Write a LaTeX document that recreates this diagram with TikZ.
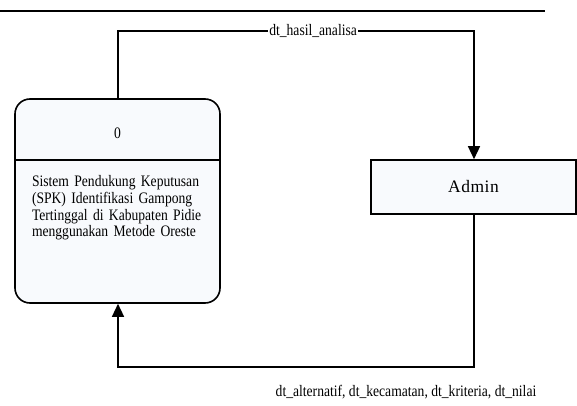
\documentclass[tikz,border=0pt]{standalone}
\usepackage{fontspec}
\setmainfont{Liberation Serif}
\newfontfamily\dfdfont[FakeStretch=0.85]{Liberation Serif}
\newfontfamily\entfont[LetterSpace=3]{Liberation Serif}
\usetikzlibrary{shapes, arrows.meta, positioning}
\definecolor{isian}{RGB}{248,250,253}
\tikzstyle{proses} = [rectangle, rounded corners=15pt, draw, line width=1.6pt, fill=isian, minimum width=205pt, minimum height=204pt, inner sep=0pt]
\tikzstyle{entitas} = [rectangle, draw, line width=1.6pt, fill=isian, minimum width=205pt, minimum height=54pt, font=\entfont\fontsize{17.5}{19}\selectfont]
\tikzstyle{aliran} = [-{Triangle[width=12pt, length=13pt]}, line width=1.4pt]
\tikzstyle{teks} = [font=\dfdfont\fontsize{16}{16.7}\selectfont, inner sep=1pt]

\begin{document}
\begin{tikzpicture}[x=1pt, y=-1pt]
  \useasboundingbox (0,0) rectangle (577,406);
  % garis atas
  \coordinate (ga) at (0,11);
  \coordinate (gb) at (545,11);
  \draw[line width=2.4pt] (ga) -- (gb);

  % proses dan entitas
  \node[proses] (p0) at (117.5,201) {};
  \node[entitas] (admin) at (473.5,187) {Admin};

  % isi proses
  \coordinate (sekat) at (0,160);
  \draw[line width=1.6pt] (p0.west |- sekat) -- (p0.east |- sekat);
  \node[teks] (nomor) at (117.5,133) {0};
  \node[teks, text width=182pt, align=left] (nama) at (123,208) {%
    \makebox[182pt][s]{Sistem Pendukung Keputusan}\\
    \makebox[182pt][s]{(SPK) Identifikasi Gampong}\\
    \makebox[182pt][s]{Tertinggal di Kabupaten Pidie}\\
    \makebox[176pt][s]{menggunakan Metode Oreste}};

  % aliran data
  \coordinate (ki) at (118,31);
  \coordinate (ka) at (474,31);
  \draw[aliran] (p0.north -| ki) -- (ki) -- node[teks, fill=white, pos=0.548] (hasil) {dt\_hasil\_analisa} (ka) -- (admin.north -| ka);

  \coordinate (bka) at (474,367);
  \coordinate (bki) at (118,367);
  \draw[aliran] (admin.south -| bka) -- (bka) -- (bki) -- (p0.south -| bki);
  \node[teks] (masukan) at (406,392) {dt\_alternatif, dt\_kecamatan, dt\_kriteria, dt\_nilai};
\end{tikzpicture}
\end{document}
